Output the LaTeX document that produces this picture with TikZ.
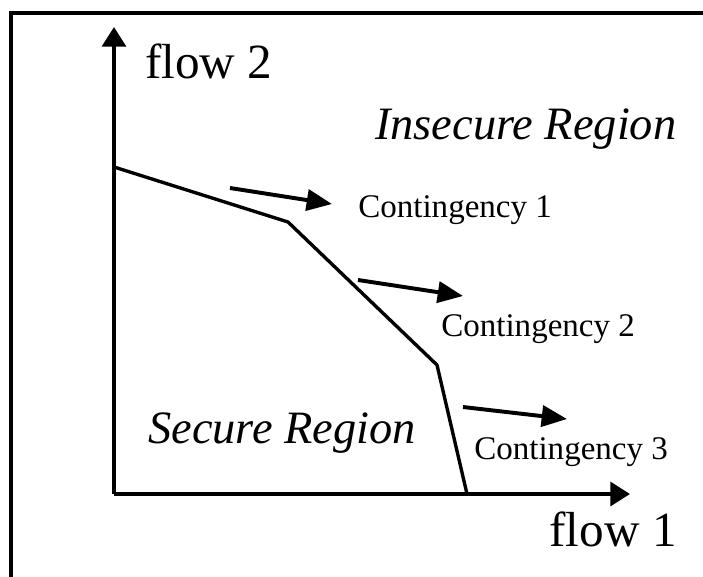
\documentclass[tikz,border=0pt]{standalone}
\usepackage{fontspec}
\setmainfont{Liberation Serif}
\usetikzlibrary{arrows.meta,positioning}

\begin{document}
\begin{tikzpicture}[
    x=0.025cm, y=-0.025cm,
    axis/.style={line width=2.6pt, -{Triangle[length=14pt, width=17pt]}},
    movearrow/.style={line width=2.8pt, -{Triangle[length=18pt, width=15pt]}},
    boundary/.style={line width=2.4pt, line join=round},
    axislabel/.style={font=\fontsize{35}{38}\selectfont, inner sep=0pt},
    region/.style={font=\fontsize{33}{36}\selectfont\itshape, inner sep=0pt},
    case/.style={font=\fontsize{23.5}{26}\selectfont, inner sep=0pt}
]
\useasboundingbox (0,0) rectangle (703,577);

% frame
\draw[line width=2.4pt] (11,577) -- (11,13) -- (703,13);

% axes
\coordinate (origin) at (114,494);
\coordinate (ytip) at (114,27);
\coordinate (xtip) at (630,494);
\draw[axis] (origin) -- (ytip);
\draw[axis] (origin) -- (xtip);
\node[axislabel, anchor=base west] (flowtwo) at (145,79) {flow 2};
\node[axislabel, anchor=base east] (flowone) at (677,546) {flow 1};

% security boundary
\coordinate (b1) at (114,167);
\coordinate (b2) at (288,222);
\coordinate (b3) at (437,365);
\coordinate (b4) at (467,494);
\draw[boundary] (b1) -- (b2) -- (b3) -- (b4);

% regions
\node[region, anchor=base west] (insecure) at (375,140) {Insecure Region};
\node[region, anchor=base west] (secure) at (148,443) {Secure Region};

% contingencies
\node[case, anchor=base west] (cone) at (358,218) {Contingency 1};
\node[case, anchor=base west] (ctwo) at (441,336) {Contingency 2};
\node[case, anchor=base west] (cthree) at (474,459) {Contingency 3};

\coordinate (s1) at (230,188);
\coordinate (e1) at (332,204);
\coordinate (s2) at (358,280);
\coordinate (e2) at (463,296);
\coordinate (s3) at (463,407);
\coordinate (e3) at (567,419);
\draw[movearrow] (s1) -- (e1);
\draw[movearrow] (s2) -- (e2);
\draw[movearrow] (s3) -- (e3);

\end{tikzpicture}
\end{document}
